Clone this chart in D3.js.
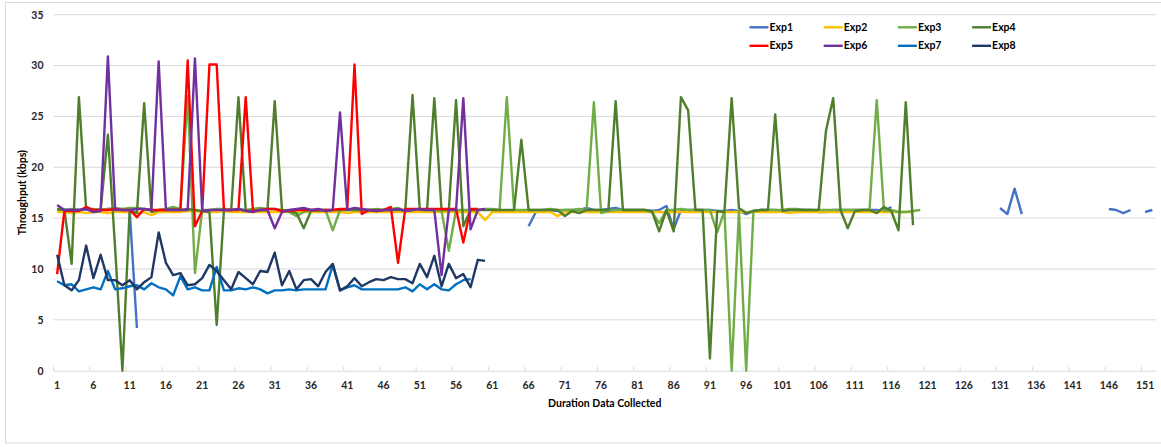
<!DOCTYPE html>
<html><head><meta charset="utf-8">
<script src="https://cdn.jsdelivr.net/npm/d3@7"></script>
<style>
html,body{margin:0;padding:0;background:#fff;}
svg{display:block;font-family:Lato,"Open Sans",sans-serif;}
</style></head>
<body><svg id="c" width="1161" height="447"></svg>
<script>
const categories = Array.from({length:152},(_, k)=>k+1);
const xTickLabels = [1,6,11,16,21,26,31,36,41,46,51,56,61,66,71,76,81,86,91,96,101,106,111,116,121,126,131,136,141,146,151];
const yTicks = [0,5,10,15,20,25,30,35];
const seriesNames = ["Exp1","Exp2","Exp3","Exp4","Exp5","Exp6","Exp7","Exp8"];
const seriesColors = ["#4472C4","#FFC000","#70AD47","#4F7F2C","#FF0000","#7030A0","#0070C0","#203864"];

const exp1 = [
15.8,15.8,15.8,15.8,15.9,15.8,15.8,15.9,15.8,15.8,
15.8,4.2,null,null,null,null,null,null,null,null,
null,null,null,null,null,null,null,null,null,null,
null,null,null,null,null,null,null,null,null,null,
null,null,null,null,null,null,null,null,null,null,
null,null,null,null,null,null,null,null,null,null,
null,null,null,null,null,14.2,15.6,15.8,15.8,15.7,
15.8,15.8,15.8,16.0,15.8,15.8,15.9,16.0,15.8,15.8,
15.8,15.8,15.7,15.8,16.2,13.9,15.8,15.8,15.8,15.8,
15.8,15.7,15.7,15.8,15.7,15.4,15.7,15.8,15.8,15.8,
15.7,15.8,15.8,15.8,15.8,15.6,15.6,15.8,15.8,15.8,
15.8,15.8,15.8,15.8,15.7,16.1,null,null,null,null,
null,null,null,null,null,null,null,null,null,null,
16.0,15.4,17.9,15.4,null,null,null,null,null,null,
null,null,null,null,null,15.9,15.8,15.5,15.8,null,
15.6,15.8];
const exp2 = [
15.6,15.6,15.5,15.6,15.5,15.6,15.6,15.5,15.6,15.6,
15.6,15.5,15.6,15.3,15.6,15.6,15.6,15.6,15.7,15.7,
15.6,15.6,15.6,15.7,15.6,15.6,15.6,15.6,15.6,15.6,
15.6,15.6,15.6,15.6,15.6,15.6,15.6,15.6,15.6,15.6,
15.5,15.6,15.6,15.6,15.6,15.6,15.6,15.6,15.6,15.6,
15.6,15.6,15.6,15.6,15.6,15.6,15.6,15.6,15.6,14.8,
15.6,15.6,15.6,15.6,15.6,15.6,15.6,15.6,15.6,15.2,
15.6,15.6,15.6,15.6,15.6,15.6,15.6,15.6,15.6,15.6,
15.6,15.6,15.6,15.6,15.6,15.6,15.6,15.6,15.6,15.6,
15.6,15.6,15.6,15.6,15.6,15.6,15.6,15.6,15.6,15.6,
15.6,15.5,15.6,15.6,15.6,15.6,15.6,15.6,15.6,15.6,
15.6,15.6,15.6,15.6,15.6,15.6,15.6,15.6,15.6];
const exp3 = [
15.9,15.8,15.9,15.8,15.9,15.9,15.8,15.9,16.0,15.9,
16.0,16.0,15.9,15.7,15.8,15.9,16.1,15.9,27.0,9.6,
15.8,15.8,15.9,15.9,15.8,15.9,15.8,15.9,16.0,15.9,
15.9,15.8,15.6,15.2,15.6,15.8,15.7,15.8,13.8,15.8,
15.9,15.8,15.8,15.8,15.9,15.8,15.9,16.0,15.7,15.8,
15.9,15.8,15.8,15.7,11.8,15.8,15.8,15.8,15.8,15.9,
15.9,15.8,26.9,15.8,15.8,15.8,15.8,15.8,15.9,15.8,
15.8,15.8,15.9,15.8,26.4,15.5,15.7,15.8,15.8,15.8,
15.8,15.8,15.6,14.5,15.8,15.8,15.9,15.8,15.8,15.8,
15.8,13.6,15.7,0,15.7,0,15.7,15.8,15.8,15.8,
15.8,15.9,15.9,15.8,15.8,15.8,15.8,15.8,15.8,15.8,
15.8,15.8,15.8,26.6,15.7,15.8,15.6,15.6,15.7,15.8];
const exp4 = [
15.9,15.8,10.5,26.9,15.9,15.8,15.8,23.2,12.0,0,
15.8,15.5,26.3,15.6,15.8,15.8,15.9,15.8,15.9,15.8,
15.7,15.6,4.5,15.8,15.8,26.9,15.8,15.7,15.8,15.8,
26.5,15.8,15.7,15.5,14.0,15.7,15.8,15.8,15.8,15.8,
15.8,15.8,15.8,15.8,15.8,15.8,15.8,15.8,15.8,27.1,
15.8,15.8,26.8,15.8,15.8,26.6,14.2,15.8,15.8,15.8,
15.8,15.8,15.8,15.8,22.7,15.8,15.8,15.8,15.8,15.8,
15.2,15.7,15.5,15.8,15.8,15.8,15.8,26.5,15.8,15.8,
15.8,15.8,15.7,13.7,15.8,13.7,26.9,25.6,15.8,15.8,
1.2,15.7,15.6,26.8,16.0,15.5,15.7,15.8,15.8,25.2,
15.7,15.8,15.8,15.8,15.8,15.8,23.6,26.8,15.8,14.0,
15.7,15.8,15.8,15.5,16.1,15.7,13.8,26.4,14.3];
const exp5 = [
9.5,15.7,15.7,15.7,16.1,15.8,15.8,15.8,15.9,15.8,
15.8,15.1,15.9,15.8,15.8,15.8,15.8,15.8,30.5,14.2,
15.7,30.1,30.1,15.8,15.8,15.8,26.9,15.7,15.8,15.9,
15.9,15.7,15.7,15.8,15.8,15.8,15.8,15.8,15.8,15.9,
15.9,30.1,15.4,15.8,15.7,15.8,16.1,10.6,15.9,15.9,
15.9,15.9,15.9,15.9,15.9,15.9,12.6,15.9,15.9];
const exp6 = [
16.3,15.8,15.8,15.8,15.9,15.6,15.7,30.9,15.8,15.8,
15.8,15.9,15.9,15.8,30.4,15.8,15.8,15.8,15.8,30.7,
15.7,15.8,15.8,15.8,15.8,15.9,15.7,15.6,15.8,15.8,
14.0,15.6,15.8,15.9,16.0,15.8,15.9,15.7,15.8,25.4,
15.8,16.0,15.9,15.8,15.7,15.8,15.8,15.9,15.7,15.8,
15.9,15.8,15.8,9.4,15.8,15.8,26.8,13.9,15.8,15.9];
const exp7 = [
8.8,8.4,8.5,7.8,8.0,8.2,8.0,9.8,8.0,8.1,
8.3,8.4,8.0,8.6,8.2,8.0,7.4,9.3,8.0,8.2,
7.9,7.9,10.2,7.9,7.9,8.1,8.0,8.2,8.0,7.6,
7.9,7.9,8.0,7.9,8.0,8.0,8.0,8.0,10.4,7.9,
8.2,8.4,8.0,8.0,8.0,8.0,8.0,8.0,8.2,7.8,
8.5,8.0,8.5,8.0,7.9,8.5,8.9,9.0];
const exp8 = [
11.4,8.4,7.9,8.9,12.3,9.1,11.4,8.9,8.9,8.4,
8.9,8.0,8.7,9.2,13.6,10.6,9.4,9.6,8.4,8.5,
9.1,10.4,9.8,8.9,8.0,9.7,9.1,8.5,9.8,9.7,
11.6,8.4,9.8,8.0,8.9,9.0,8.3,9.7,10.5,7.9,
8.3,9.1,8.3,8.7,9.0,8.9,9.2,9.0,9.0,8.6,
10.5,9.2,11.3,8.3,10.5,9.1,9.5,8.2,10.9,10.8];

const allSeries = [exp1,exp2,exp3,exp4,exp5,exp6,exp7,exp8];

const svg = d3.select("#c");
svg.append("rect").attr("x",5.5).attr("y",2.5).attr("width",1170).attr("height",440.5)
  .attr("fill","#fff").attr("stroke","#d9d9d9").attr("stroke-width",1);

const plotL = 53.5, plotR = 1156, plotT = 14.7, plotB = 370.7;
const x = d3.scaleBand().domain(categories).range([plotL, plotR]).padding(0);
const y = d3.scaleLinear().domain([0,35]).range([plotB, plotT]);
const cx = c => x(c) + x.bandwidth()/2;

svg.append("g").selectAll("line").data(yTicks.filter(t=>t>0)).join("line")
  .attr("x1",plotL).attr("x2",plotR).attr("y1",d=>y(d)).attr("y2",d=>y(d))
  .attr("stroke","#d9d9d9").attr("stroke-width",1);

const yAxis = d3.axisLeft(y).tickValues(yTicks).tickSize(0).tickPadding(0);
const gy = svg.append("g").attr("transform",`translate(${plotL-10},0)`).call(yAxis);
gy.select(".domain").remove();
gy.selectAll("text").attr("font-size","10.5px").attr("font-weight","bold").attr("fill","#262626")
  .attr("font-family","Lato, sans-serif");

const xAxis = d3.axisBottom(x).tickValues(xTickLabels).tickSize(0).tickPadding(11);
const gx = svg.append("g").attr("transform",`translate(0,${plotB})`).call(xAxis);
gx.select(".domain").attr("stroke","#d9d9d9");
gx.selectAll("text").attr("font-size","10.5px").attr("font-weight","bold").attr("fill","#262626")
  .attr("font-family","Lato, sans-serif");
svg.append("g").selectAll("line").data(xTickLabels).join("line")
  .attr("x1",d=>x(d)).attr("x2",d=>x(d)).attr("y1",plotB).attr("y2",plotB-4)
  .attr("stroke","#d9d9d9").attr("stroke-width",1);

const line = d3.line().defined(d=>d.v!==null && d.v!==undefined).x(d=>cx(d.c)).y(d=>y(d.v));
const gl = svg.append("g");
allSeries.forEach((s,k)=>{
  const pts = s.map((v,j)=>({c:categories[j], v:v}));
  gl.append("path").datum(pts).attr("d",line).attr("fill","none")
    .attr("stroke",seriesColors[k]).attr("stroke-width",2.4)
    .attr("stroke-linejoin","round").attr("stroke-linecap","butt");
});

svg.append("text").attr("transform",`translate(26,${(plotT+plotB)/2}) rotate(-90)`)
  .attr("text-anchor","middle").attr("font-size","10.5px").attr("font-weight","bold").attr("fill","#000")
  .text("Throughput (kbps)");
svg.append("text").attr("x",(plotL+plotR)/2).attr("y",407)
  .attr("text-anchor","middle").attr("font-size","10.5px").attr("font-weight","bold").attr("fill","#000")
  .text("Duration Data Collected");

const lg = svg.append("g");
seriesNames.forEach((n,k)=>{
  const col = k%4, row = Math.floor(k/4);
  const lx = 749.5 + col*74.2, ly = 27.3 + row*18.5;
  lg.append("line").attr("x1",lx).attr("x2",lx+19).attr("y1",ly).attr("y2",ly)
    .attr("stroke",seriesColors[k]).attr("stroke-width",2.4);
  lg.append("text").attr("x",lx+20).attr("y",ly+3.6).attr("font-size","10.5px")
    .attr("font-weight","bold").attr("fill","#000").text(n);
});
</script></body></html>
